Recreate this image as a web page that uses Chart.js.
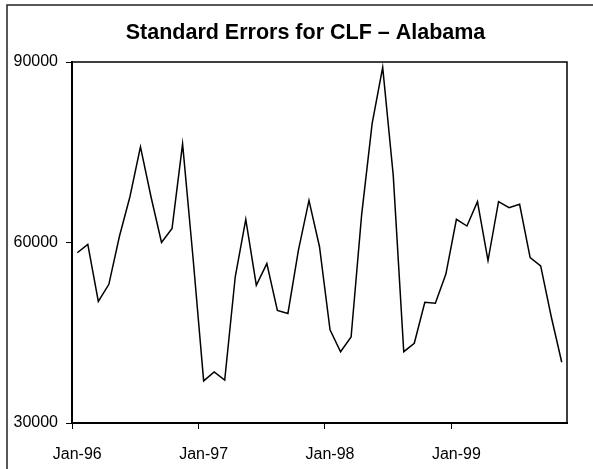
<!DOCTYPE html>
<html>
<head>
<meta charset="utf-8">
<script src="https://cdn.jsdelivr.net/npm/chart.js@4"></script>
<style>
  html, body { margin: 0; padding: 0; background: #fff; }
  canvas { display: block; }
</style>
</head>
<body>
<canvas id="seChart" width="593" height="469"></canvas>
<script>
// monthly labels, Jan-96 .. Nov-99
var monthNames = ["Jan", "Feb", "Mar", "Apr", "May", "Jun", "Jul", "Aug", "Sep", "Oct", "Nov", "Dec"];
var years = ["96", "97", "98", "99"];
var months = [];
years.forEach(function (yy) {
  monthNames.forEach(function (m) {
    months.push(m + "-" + yy);
  });
});
months = months.slice(0, 47);

// standard errors
var standardErrors = [
  58300, 59700, 50200, 53050, 61000, 67600, 75900, 67600, 60000, 62350, 76400, 57300,
  37000, 38500, 37150, 54300, 63850, 52900, 56500, 48700, 48200, 58750, 67000, 59300,
  45500, 41850, 44300, 64600, 79800, 89100, 71200, 41850, 43250, 50050, 49900, 54760,
  63850, 62740, 66800, 57000, 66800, 65800, 66350, 57500, 56100, 47700, 40100
];

var yMin = 30000;
var yMax = 90000;
var yStep = 30000;

var titleText = "Standard Errors for CLF \u2013 Alabama";
var fontFamily = "'Liberation Sans', Arial, sans-serif";

// white page, title, outer frame and top/right edges of the plot
var framePlugin = {
  id: "frame",
  beforeDraw: function (chart) {
    var c = chart.ctx;
    c.save();
    c.fillStyle = "#fff";
    c.fillRect(0, 0, chart.width, chart.height);
    c.restore();
  },
  afterDraw: function (chart) {
    var c = chart.ctx;
    var a = chart.chartArea;
    c.save();
    c.strokeStyle = "#000";
    c.lineWidth = 1.5;
    c.beginPath();
    c.moveTo(a.left, a.top);
    c.lineTo(a.right, a.top);
    c.lineTo(a.right, a.bottom);
    c.stroke();
    // chart area border (only left and top edges fall inside the picture)
    c.strokeStyle = "#222";
    c.beginPath();
    c.moveTo(7, chart.height);
    c.lineTo(7, 5);
    c.lineTo(chart.width, 5);
    c.stroke();
    // title, centred a little right of the canvas middle like the original
    c.fillStyle = "#000";
    c.font = "bold 21.5px " + fontFamily;
    c.textAlign = "center";
    c.textBaseline = "middle";
    c.fillText(titleText, 305.5, 33);
    c.restore();
  }
};

var ctx = document.getElementById("seChart");

new Chart(ctx, {
  type: "line",
  data: {
    labels: months,
    datasets: [
      {
        label: "Standard error",
        data: standardErrors,
        borderColor: "#000",
        borderWidth: 1.5,
        pointRadius: 0,
        tension: 0,
        fill: false
      }
    ]
  },
  options: {
    responsive: false,
    animation: false,
    layout: {
      padding: { left: 0, right: 26, top: 62, bottom: 0 }
    },
    plugins: {
      legend: { display: false },
      tooltip: { enabled: false },
      title: { display: false }
    },
    scales: {
      x: {
        type: "category",
        offset: true,
        afterFit: function (scale) { scale.height = 46; },
        border: { color: "#000", width: 2 },
        grid: {
          offset: true,
          drawOnChartArea: false,
          tickLength: 6,
          lineWidth: 1,
          color: function (c) {
            if (c.tick && c.index % 12 === 0) return "#000";
            return "rgba(0,0,0,0)";
          }
        },
        ticks: {
          autoSkip: false,
          maxRotation: 0,
          padding: 16,
          color: "#000",
          font: { family: fontFamily, size: 16 },
          callback: function (value, index) {
            return index % 12 === 0 ? months[index] : "";
          }
        }
      },
      y: {
        min: yMin,
        max: yMax,
        afterFit: function (scale) { scale.width = 72; },
        border: { color: "#000", width: 2 },
        grid: {
          drawOnChartArea: false,
          tickLength: 6,
          color: "#000"
        },
        ticks: {
          stepSize: yStep,
          padding: 8,
          color: "#000",
          font: { family: fontFamily, size: 16 },
          callback: function (value) { return String(value); }
        }
      }
    }
  },
  plugins: [framePlugin]
});
</script>
</body>
</html>
